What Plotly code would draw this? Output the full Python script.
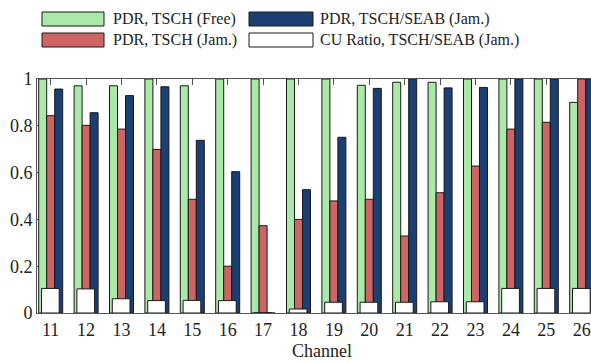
import plotly.graph_objects as go

channels = list(range(11, 27))
pdr_tsch_free = [1.0, 0.971, 0.971, 1.0, 0.971, 1.0, 1.0, 1.0, 1.0, 0.973, 0.986, 0.986, 1.0, 1.0, 1.0, 0.900]
pdr_tsch_jam = [0.843, 0.802, 0.786, 0.699, 0.486, 0.200, 0.373, 0.400, 0.479, 0.486, 0.329, 0.514, 0.628, 0.786, 0.815, 1.0]
pdr_seab_jam = [0.957, 0.856, 0.929, 0.967, 0.738, 0.604, 0.0, 0.527, 0.751, 0.960, 1.0, 0.962, 0.964, 1.0, 1.0, 1.0]
cu_ratio_seab = [0.105, 0.103, 0.061, 0.053, 0.054, 0.053, 0.0, 0.017, 0.046, 0.046, 0.046, 0.048, 0.048, 0.105, 0.105, 0.105]
y_ticks = [0, 0.2, 0.4, 0.6, 0.8, 1]
y_tick_labels = ["0", "0.2", "0.4", "0.6", "0.8", "1"]

names = ["PDR, TSCH (Free)", "PDR, TSCH (Jam.)", "PDR, TSCH/SEAB (Jam.)", "CU Ratio, TSCH/SEAB (Jam.)"]
colors = ["#abe9a8", "#cd6565", "#1b3e73", "#ffffff"]
FONT = "Liberation Serif, DejaVu Serif, serif"

W, H = 591, 363
L, R, T, B = 37, 0, 79, 50
PW, PH = W - L - R, H - T - B

bw = 0.226
fig = go.Figure()
series = [pdr_tsch_free, pdr_tsch_jam, pdr_seab_jam]
offsets = [-0.339, -0.113, 0.113]
for vals, name, col, off in zip(series, names[:3], colors[:3], offsets):
    fig.add_trace(go.Bar(x=channels, y=vals, name=name, width=bw, offset=off,
                         marker=dict(color=col, line=dict(color="#1a1a1a", width=1)),
                         showlegend=False))
fig.add_trace(go.Bar(x=channels, y=cu_ratio_seab, name=names[3], width=0.5, offset=-0.26,
                     marker=dict(color=colors[3], line=dict(color="#1a1a1a", width=1)),
                     showlegend=False))

def px(x):
    return (x - L) / PW

def py(y):
    return (T + PH - y) / PH

shapes = []
annots = []
legend_pos = [(42, 104, 12, 26, 111), (42, 104, 33, 47, 111), (249, 313, 12, 26, 318), (249, 313, 33, 47, 318)]
for i, (x0, x1, y0, y1, tx) in enumerate(legend_pos):
    shapes.append(dict(type="rect", xref="paper", yref="paper", x0=px(x0), x1=px(x1), y0=py(y1), y1=py(y0),
                       fillcolor=colors[i], line=dict(color="#1a1a1a", width=1), layer="above"))
    annots.append(dict(xref="paper", yref="paper", x=px(tx), y=py((y0 + y1) / 2), text=names[i],
                       showarrow=False, xanchor="left", yanchor="middle",
                       font=dict(family=FONT, size=16, color="#222")))
annots.append(dict(xref="paper", yref="paper", x=px(322), y=py(351), text="Channel",
                   showarrow=False, xanchor="center", yanchor="middle",
                   font=dict(family=FONT, size=18, color="#222")))

fig.update_layout(
    width=W, height=H, margin=dict(l=L, r=R, t=T, b=B, autoexpand=False),
    plot_bgcolor="white", paper_bgcolor="white",
    barmode="overlay",
    shapes=shapes, annotations=annots,
    font=dict(family=FONT, size=18, color="#222"),
    xaxis=dict(range=[10.613, 26.263], tickvals=channels, ticktext=[str(c) for c in channels],
               ticks="inside", ticklen=6, tickcolor="#555", showline=True, linecolor="#555",
               mirror="ticks", showgrid=False, zeroline=False, layer="below traces",
               automargin=False, tickfont=dict(family=FONT, size=18)),
    yaxis=dict(range=[0, 1], tickvals=y_ticks, ticktext=y_tick_labels,
               ticks="inside", ticklen=5, tickcolor="#555", showline=True, linecolor="#555",
               mirror="ticks", showgrid=False, zeroline=False, layer="below traces",
               automargin=False, tickfont=dict(family=FONT, size=18)),
)
fig.write_html("out.html", config={"displayModeBar": False},
               post_script="document.body.style.margin='0';document.body.style.overflow='hidden';")
